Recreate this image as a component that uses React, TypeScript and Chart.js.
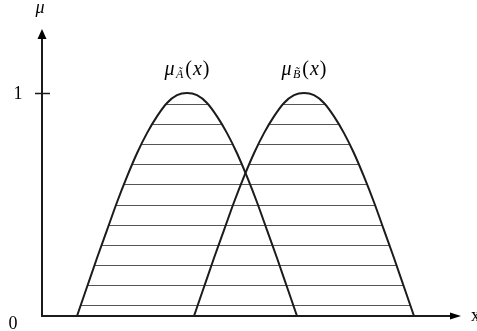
import { useEffect, useRef } from "react";
import { Chart, registerables } from "chart.js";

Chart.register(...registerables);

// Membership curve of fuzzy set A: sample positions along x and membership grade
const xA = [3.5, 4.5, 5.5, 6.5, 7.5, 8.5, 9.5, 10.5, 11.5, 12.5, 13.5, 14.5, 15.5, 16.5, 17.5, 18.5, 19.5, 20.5, 21.5, 22.5, 23.5, 24.5, 25.5];
const muA = [0, 0.13, 0.26, 0.385, 0.51, 0.625, 0.73, 0.82, 0.895, 0.955, 0.99, 1, 0.99, 0.955, 0.895, 0.82, 0.73, 0.625, 0.51, 0.385, 0.26, 0.13, 0];

// Membership curve of fuzzy set B
const xB = [15.2, 16.2, 17.2, 18.2, 19.2, 20.2, 21.2, 22.2, 23.2, 24.2, 25.2, 26.2, 27.2, 28.2, 29.2, 30.2, 31.2, 32.2, 33.2, 34.2, 35.2, 36.2, 37.2];
const muB = [0, 0.13, 0.26, 0.385, 0.51, 0.625, 0.73, 0.82, 0.895, 0.955, 0.99, 1, 0.99, 0.955, 0.895, 0.82, 0.73, 0.625, 0.51, 0.385, 0.26, 0.13, 0];

// Membership grades of the horizontal hatching under both curves
const hatchLevels = [0.05, 0.14, 0.23, 0.32, 0.41, 0.5, 0.59, 0.68, 0.77, 0.86, 0.95];

// Y-axis tick values and their labels
const yTickValues = [0, 1];
const yTickLabels = ["0", "1"];

// Axis names and curve names (base symbol + subscript set name)
const xAxisName = "x";
const yAxisName = "μ";
const curveSubscripts = ["A\u0303", "B\u0303"];

const SERIF = "'Liberation Serif', 'Times New Roman', serif";
const INK = "#1b1b1b";

const hatchPlugin = {
  id: "hatch",
  beforeDatasetsDraw(chart: any) {
    const { ctx, chartArea, scales } = chart;
    const yBase = scales.y.getPixelForValue(0);
    ctx.save();
    ctx.beginPath();
    chart.data.datasets.forEach((_: any, i: number) => {
      const meta = chart.getDatasetMeta(i);
      const pts = meta.data;
      meta.dataset.path(ctx);
      ctx.lineTo(pts[pts.length - 1].x, yBase);
      ctx.lineTo(pts[0].x, yBase);
      ctx.closePath();
    });
    ctx.clip();
    ctx.strokeStyle = "#555";
    ctx.lineWidth = 1;
    ctx.beginPath();
    hatchLevels.forEach((lv) => {
      const y = Math.round(scales.y.getPixelForValue(lv)) + 0.5;
      ctx.moveTo(chartArea.left, y);
      ctx.lineTo(chartArea.right, y);
    });
    ctx.stroke();
    ctx.restore();
  },
};

const axesPlugin = {
  id: "arrowAxes",
  afterDraw(chart: any) {
    const { ctx, chartArea, scales } = chart;
    const { right, top } = chartArea;
    const x0 = scales.x.getPixelForValue(0);
    const y0 = scales.y.getPixelForValue(0);
    ctx.save();
    ctx.strokeStyle = INK;
    ctx.fillStyle = "#000";
    ctx.lineWidth = 2;

    // y axis with arrow head
    ctx.beginPath();
    ctx.moveTo(x0, y0 + 1);
    ctx.lineTo(x0, top + 8);
    ctx.stroke();
    ctx.beginPath();
    ctx.moveTo(x0, top);
    ctx.lineTo(x0 - 4.5, top + 10);
    ctx.lineTo(x0 + 4.5, top + 10);
    ctx.closePath();
    ctx.fill();

    // x axis with arrow head
    ctx.beginPath();
    ctx.moveTo(x0 - 1, y0);
    ctx.lineTo(right - 8, y0);
    ctx.stroke();
    ctx.beginPath();
    ctx.moveTo(right, y0);
    ctx.lineTo(right - 11, y0 - 3.5);
    ctx.lineTo(right - 11, y0 + 3.5);
    ctx.closePath();
    ctx.fill();

    // tick marks and labels on the y axis
    ctx.font = `18px ${SERIF}`;
    ctx.textAlign = "center";
    ctx.textBaseline = "middle";
    yTickValues.forEach((v, i) => {
      const y = scales.y.getPixelForValue(v);
      if (v === 0) {
        ctx.fillText(yTickLabels[i], x0 - 29, y + 8);
      } else {
        ctx.lineWidth = 1.5;
        ctx.beginPath();
        ctx.moveTo(x0 - 7, Math.round(y) + 0.5);
        ctx.lineTo(x0 + 8, Math.round(y) + 0.5);
        ctx.stroke();
        ctx.fillText(yTickLabels[i], x0 - 24, y + 1);
      }
    });

    // axis names
    ctx.font = `italic 18px ${SERIF}`;
    ctx.textAlign = "center";
    ctx.textBaseline = "alphabetic";
    ctx.fillText(yAxisName, x0 - 2, top - 16);
    ctx.textAlign = "left";
    ctx.font = `18px ${SERIF}`;
    ctx.fillText(xAxisName, right + 10, y0 + 5);

    // curve names centred above each peak
    chart.data.datasets.forEach((_: any, i: number) => {
      const meta = chart.getDatasetMeta(i);
      let peak = meta.data[0];
      meta.data.forEach((p: any) => {
        if (p.y < peak.y) peak = p;
      });
      const base = peak.y - 18;
      const fMain = `italic 20px ${SERIF}`;
      const fSub = `italic 12px ${SERIF}`;
      const fUp = `20px ${SERIF}`;
      const parts: [string, string, number, number][] = [
        [yAxisName, fMain, 0, 1.5],
        [curveSubscripts[i], fSub, 3, 2],
        ["(", fUp, 0, 1],
        [xAxisName, fMain, 0, 1],
        [")", fUp, 0, 0],
      ];
      let total = 0;
      const widths = parts.map(([t, f, , gap]) => {
        ctx.font = f;
        const w = ctx.measureText(t).width + gap;
        total += w;
        return w;
      });
      let cx = peak.x - total / 2;
      ctx.textAlign = "left";
      parts.forEach(([t, f, dy], k) => {
        ctx.font = f;
        ctx.fillText(t, cx, base + dy);
        cx += widths[k];
      });
    });
    ctx.restore();
  },
};

export default function App() {
  const ref = useRef<HTMLCanvasElement | null>(null);

  useEffect(() => {
    if (!ref.current) return;
    const chart = new Chart(ref.current, {
      type: "scatter",
      data: {
        datasets: [
          {
            label: "A",
            data: xA.map((x, i) => ({ x, y: muA[i] })),
          },
          {
            label: "B",
            data: xB.map((x, i) => ({ x, y: muB[i] })),
          },
        ].map((d) => ({
          ...d,
          showLine: true,
          borderColor: INK,
          borderWidth: 2,
          pointRadius: 0,
          pointHoverRadius: 0,
          cubicInterpolationMode: "monotone" as const,
          fill: false,
        })),
      },
      options: {
        responsive: false,
        animation: false,
        events: [],
        layout: { padding: { left: 42, right: 16, top: 29, bottom: 15 } },
        plugins: {
          legend: { display: false },
          tooltip: { enabled: false },
        },
        scales: {
          x: { type: "linear", display: false, min: 0, max: 41.9 },
          y: { type: "linear", display: false, min: 0, max: 1.287 },
        },
      },
      plugins: [hatchPlugin, axesPlugin],
    });
    return () => chart.destroy();
  }, []);

  return (
    <div style={{ position: "fixed", left: 0, top: 0, width: 477, height: 331, background: "#fff" }}>
      <canvas ref={ref} width={477} height={331} />
    </div>
  );
}
